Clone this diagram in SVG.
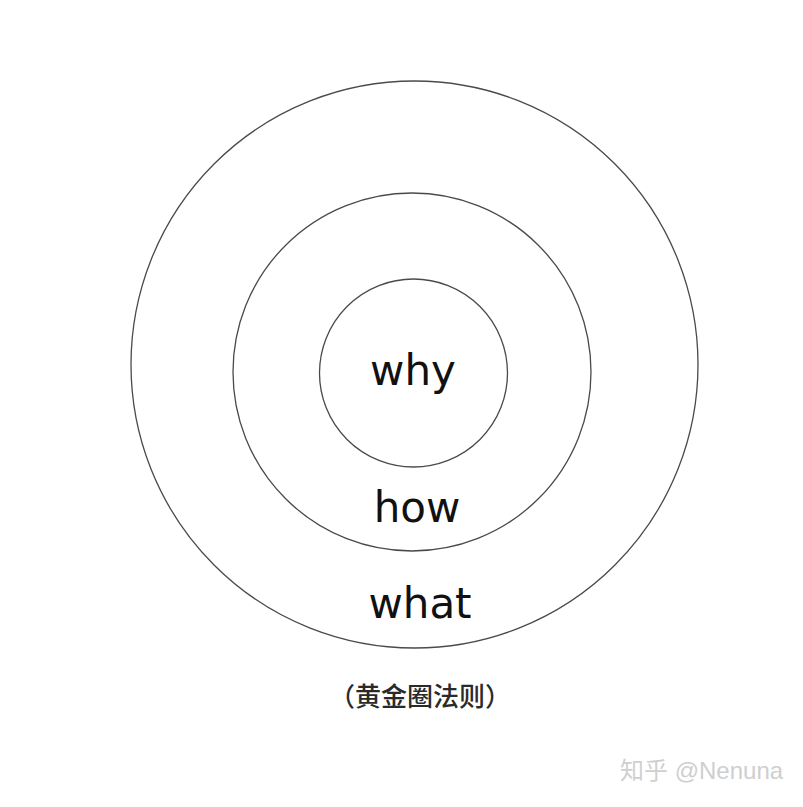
<svg xmlns="http://www.w3.org/2000/svg" width="803" height="807" viewBox="0 0 803 807">
<style>
.ring{fill:none;stroke:#4a4a4a;stroke-width:1.3}
.lbl{font-family:"DejaVu Sans","Noto Sans",sans-serif;font-size:42px;fill:#111;text-anchor:middle}
.cap{font-family:"Noto Sans CJK SC","Noto Sans",sans-serif;font-size:26px;font-weight:500;fill:#2a2a2a;text-anchor:middle}
.wm{font-family:"Liberation Sans","Noto Sans CJK SC",sans-serif;font-size:24px;fill:#cfcfcf}
</style>
<rect width="803" height="807" fill="#fff"/>
<g id="what">
<circle class="ring" cx="414.5" cy="364.5" r="283.5"/>
<text class="lbl" x="420" y="618">what</text>
</g>
<g id="how">
<circle class="ring" cx="412" cy="372" r="179"/>
<text class="lbl" x="417" y="522">how</text>
</g>
<g id="why">
<circle class="ring" cx="413.5" cy="373" r="94"/>
<text class="lbl" x="413" y="385">why</text>
</g>
<g id="connectors"/>
<text class="cap" x="420" y="706">（黄金圈法则）</text>
<text class="wm" x="620" y="779">知乎 @Nenuna</text>
</svg>
